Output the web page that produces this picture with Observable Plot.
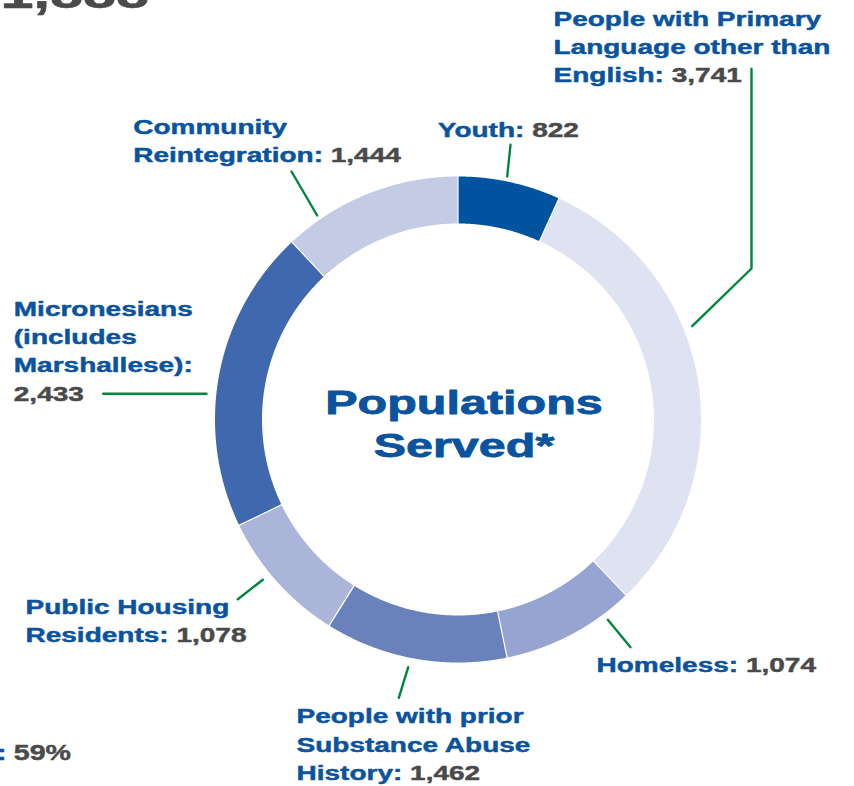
<!DOCTYPE html>
<html><head><meta charset="utf-8">
<script src="https://cdn.jsdelivr.net/npm/d3@7"></script>
<script src="https://cdn.jsdelivr.net/npm/@observablehq/plot@0.6"></script>
<style>
html,body{margin:0;padding:0;background:#fff;overflow:hidden}
#chart{width:854px;height:786px}
</style></head><body><div id="chart"></div>
<script>
// ---------------- DATA ----------------
const categories = ["Youth", "People with Primary Language other than English", "Homeless",
  "People with prior Substance Abuse History", "Public Housing Residents",
  "Micronesians (includes Marshallese)", "Community Reintegration"];
const values = [822, 3741, 1074, 1462, 1078, 2433, 1444];
const valueLabels = ["822", "3,741", "1,074", "1,462", "1,078", "2,433", "1,444"];
// label text split into lines; value appended to last line ("" = value on its own line)
const labelLines = [
  ["Youth:"],
  ["People with Primary", "Language other than", "English:"],
  ["Homeless:"],
  ["People with prior", "Substance Abuse", "History:"],
  ["Public Housing", "Residents:"],
  ["Micronesians", "(includes", "Marshallese):", ""],
  ["Community", "Reintegration:"]
];
const titleLines = ["Populations", "Served*"];
const fragmentTop = ["1,888"];
const fragmentBottom = [":", "59%"];

// ---------------- LAYOUT / STYLE ----------------
const W = 854, H = 786, CX = 457.5, CY = 419, R_OUT = 243, R_IN = 196;
const palette = ["#00539f", "#dfe2f1", "#95a4d0", "#6a82bc", "#abb5da", "#3f68ae", "#c4cbe5"];
const BLUE = "#0a539e", GREY = "#4a4a4a", GREEN = "#00873e";
const FONT = "Liberation Sans";
const LABEL_SIZE = 20, LABEL_STRETCH = 1.4, LINE_H = 28.4;
const TITLE_SIZE = 33, TITLE_STRETCH = 1.47;
const FRAG_SIZE = 22, FRAG_STRETCH = 1.3;
// first-line anchor of each label (page px)
const labelAnchors = [[437.3, 136], [553, 25], [596, 671.5], [296, 722.7], [25, 613.5], [13.3, 315], [132.7, 133.3]];
// leader polylines (page px)
const leaders = [
  [[510, 144.3], [506.7, 176]],
  [[751, 68.3], [751, 268], [691.7, 325.7]],
  [[607.3, 619.3], [630, 646.7]],
  [[398.3, 697.3], [407.7, 666.7]],
  [[237.3, 598.7], [262.3, 579.3]],
  [[102.7, 393.3], [206, 393.3]],
  [[291, 171], [316.7, 215]]
];
const px = (p) => ({x: p[0] - CX, y: CY - p[1]});

// ---------------- BUILD ----------------
const ctx = document.createElement("canvas").getContext("2d");
const measure = (s, size) => { ctx.font = `bold ${size}px "${FONT}"`; return ctx.measureText(s).width; };

const pie = d3.pie().sort(null).value(d => d)(values);
const slices = pie.map((a, i) => {
  const pts = [];
  const n = Math.max(8, Math.ceil((a.endAngle - a.startAngle) / 0.005));
  for (let k = 0; k <= n; k++) {
    const t = a.startAngle + (a.endAngle - a.startAngle) * k / n;
    pts.push({x: R_OUT * Math.sin(t), y: R_OUT * Math.cos(t)});
  }
  for (let k = n; k >= 0; k--) {
    const t = a.startAngle + (a.endAngle - a.startAngle) * k / n;
    pts.push({x: R_IN * Math.sin(t), y: R_IN * Math.cos(t)});
  }
  return {pts, color: palette[i], name: categories[i]};
});
const separators = [];
pie.forEach((a, i) => {
  const t = a.startAngle;
  separators.push({id: i, x: (R_IN - 1) * Math.sin(t), y: (R_IN - 1) * Math.cos(t)});
  separators.push({id: i, x: (R_OUT + 1) * Math.sin(t), y: (R_OUT + 1) * Math.cos(t)});
});

const blueText = [], greyText = [];
labelLines.forEach((lines, i) => {
  const [ax, ay] = labelAnchors[i];
  lines.forEach((line, j) => {
    const py = ay + j * LINE_H;
    if (line) blueText.push({...px([ax, py]), text: line});
    if (j === lines.length - 1) {
      const off = line ? measure(line + " ", LABEL_SIZE) * LABEL_STRETCH : 0;
      greyText.push({...px([ax + off, py]), text: valueLabels[i]});
    }
  });
});
const titleData = titleLines.map((t, j) => ({...px([463.5, 413 + j * 43]), text: t}));
const leaderData = leaders.flatMap((l, i) => l.map(p => ({id: i, ...px(p)})));

const textOpts = (fill, size, anchor, sw) => ({x: "x", y: "y", text: "text", fill, stroke: fill, strokeWidth: sw, fontSize: size, fontWeight: "bold", textAnchor: anchor, lineAnchor: "bottom"});
// order of text marks -> horizontal stretch
const textMarks = [
  [Plot.text(blueText, textOpts(BLUE, LABEL_SIZE, "start", 0.45)), LABEL_STRETCH],
  [Plot.text(greyText, textOpts(GREY, LABEL_SIZE, "start", 0.45)), LABEL_STRETCH],
  [Plot.text(titleData, textOpts(BLUE, TITLE_SIZE, "middle", 0.8)), TITLE_STRETCH],
  [Plot.text([{...px([0, 7.5]), text: fragmentTop[0]}], textOpts(GREY, 44, "start", 0.6)), 1.35],
  [Plot.text([{...px([-3.5, 759]), text: fragmentBottom[0]}], textOpts(BLUE, FRAG_SIZE, "start", 0.45)), FRAG_STRETCH],
  [Plot.text([{...px([13.3, 759]), text: fragmentBottom[1]}], textOpts(GREY, FRAG_SIZE, "start", 0.45)), FRAG_STRETCH]
];

const plot = Plot.plot({
  width: W, height: H, margin: 0,
  x: {domain: [-CX, W - CX], range: [0, W], axis: null},
  y: {domain: [CY - H, CY], range: [H, 0], axis: null},
  style: {background: "white", fontFamily: FONT},
  marks: [
    ...slices.map(s => Plot.line(s.pts, {x: "x", y: "y", fill: s.color, stroke: "none", curve: "linear"})),
    Plot.line(separators, {x: "x", y: "y", z: "id", stroke: "white", strokeWidth: 1.2}),
    Plot.line(leaderData, {x: "x", y: "y", z: "id", stroke: GREEN, strokeWidth: 2.4}),
    ...textMarks.map(d => d[0])
  ]
});

// apply horizontal stretch (wide typeface look)
const groups = plot.querySelectorAll('g[aria-label="text"]');
groups.forEach((g, gi) => {
  const s = textMarks[gi] ? textMarks[gi][1] : 1;
  g.querySelectorAll("text").forEach(t => {
    let tr = t.getAttribute("transform") || "";
    if (!tr.includes("translate")) {
      const x = +(t.getAttribute("x") || 0), y = +(t.getAttribute("y") || 0);
      t.setAttribute("x", 0); t.setAttribute("y", 0);
      tr = `translate(${x},${y}) ` + tr;
    }
    t.setAttribute("transform", tr + ` scale(${s},1)`);
  });
});
document.getElementById("chart").appendChild(plot);
</script>
</body></html>
